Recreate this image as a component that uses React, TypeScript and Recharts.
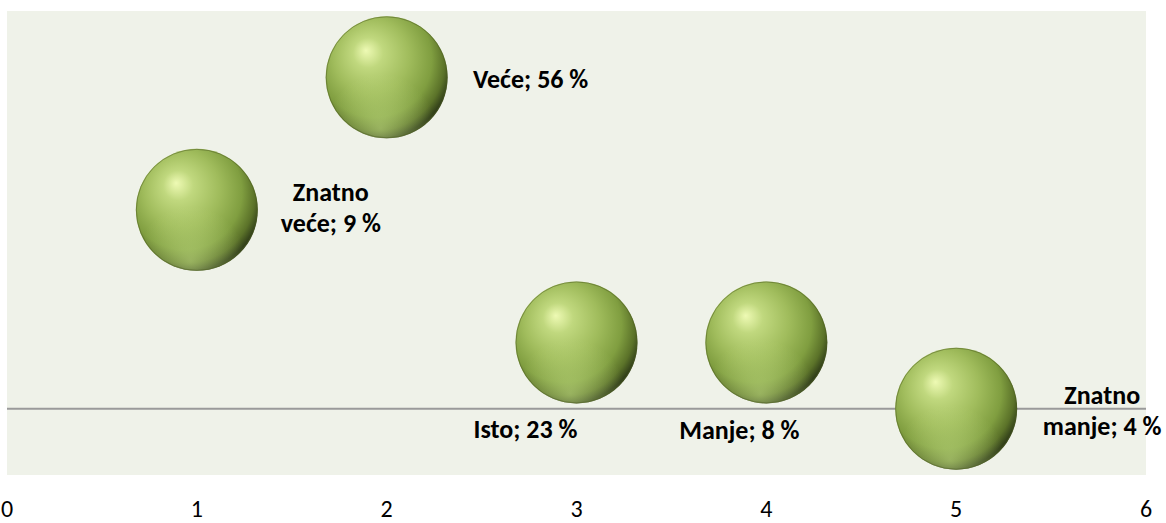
import React from 'react';
import {
    ScatterChart,
    Scatter,
    XAxis,
    YAxis,
    CartesianGrid,
    ReferenceLine,
    LabelList,
} from 'recharts';

const xValues = [1, 2, 3, 4, 5];
const yValues = [3, 5, 1, 1, 0];
const categories = ['Znatno veće', 'Veće', 'Isto', 'Manje', 'Znatno manje'];
const percents = [9, 56, 23, 8, 4];
const xTicks = [0, 1, 2, 3, 4, 5, 6];

const FONT = 'Calibri, Carlito, Lato, "Open Sans", sans-serif';
const R = 61;

// label lines and where they sit relative to the bubble centre (Excel placed them by hand)
const labelLines = [
    ['Znatno', 'veće; 9 %'],
    ['Veće; 56 %'],
    ['Isto; 23 %'],
    ['Manje; 8 %'],
    ['Znatno', 'manje; 4 %'],
];
const labelAnchor = [
    { dx: 134, dy: -9 },
    { dx: 144, dy: 11 },
    { dx: -51, dy: 96 },
    { dx: -27, dy: 97 },
    { dx: 146, dy: -5 },
];

const data = xValues.map((x, i) => ({
    x,
    y: yValues[i],
    name: categories[i],
    pct: percents[i],
}));

const Sphere = (props: any) => {
    const { cx, cy } = props;
    if (cx == null || cy == null) return null;
    return (
        <g>
            <circle cx={cx} cy={cy} r={R} fill="url(#sphereBase)" />
            <circle cx={cx} cy={cy} r={R} fill="url(#sphereGlow)" />
            <circle cx={cx} cy={cy} r={R - 0.5} fill="none" stroke="#4d5e22" strokeOpacity={0.5} strokeWidth={1} />
        </g>
    );
};

const renderLabel = (props: any) => {
    const { x, y, width, height, index } = props;
    const cx = x + width / 2;
    const cy = y + height / 2;
    const lines = labelLines[index];
    const a = labelAnchor[index];
    return (
        <text
            x={cx + a.dx}
            y={cy + a.dy}
            textAnchor="middle"
            fontFamily={FONT}
            fontWeight="bold"
            fontSize={26}
            fill="#000"
        >
            {lines.map((l, k) => (
                <tspan key={k} x={cx + a.dx} dy={k === 0 ? 0 : 31}>
                    {l}
                </tspan>
            ))}
        </text>
    );
};

const XTick = (props: any) => {
    const { x, y, payload } = props;
    return (
        <text x={x} y={y + 34} textAnchor="middle" fontFamily={FONT} fontSize={24} fill="#000">
            {payload.value}
        </text>
    );
};

export default function App() {
    return (
        <div style={{ position: 'absolute', left: 0, top: 0, width: 1166, height: 523, background: '#fff' }}>
            <ScatterChart width={1166} height={523} margin={{ top: 11, right: 20, bottom: 0, left: 7 }}>
                <defs>
                    <radialGradient id="sphereBase" cx="42%" cy="38%" r="62%" fx="33%" fy="28%">
                        <stop offset="0%" stopColor="#eefab4" />
                        <stop offset="20%" stopColor="#c0d87e" />
                        <stop offset="50%" stopColor="#a0bc5c" />
                        <stop offset="76%" stopColor="#809e40" />
                        <stop offset="91%" stopColor="#5b7229" />
                        <stop offset="100%" stopColor="#33411a" />
                    </radialGradient>
                    <radialGradient id="sphereGlow" cx="45%" cy="92%" r="45%">
                        <stop offset="0%" stopColor="#c8e38a" stopOpacity={0.55} />
                        <stop offset="100%" stopColor="#c8e38a" stopOpacity={0} />
                    </radialGradient>
                </defs>
                <CartesianGrid fill="#eff2e9" horizontal={false} vertical={false} />
                <XAxis
                    type="number"
                    dataKey="x"
                    domain={[0, 6]}
                    ticks={xTicks}
                    axisLine={false}
                    tickLine={false}
                    height={48}
                    tick={<XTick />}
                    interval={0}
                />
                <YAxis type="number" dataKey="y" domain={[-1, 6]} hide />
                <ReferenceLine y={0} stroke="#9a9a9a" strokeWidth={2} />
                <Scatter data={data} shape={<Sphere />} isAnimationActive={false}>
                    <LabelList dataKey="pct" content={renderLabel} />
                </Scatter>
            </ScatterChart>
        </div>
    );
}
